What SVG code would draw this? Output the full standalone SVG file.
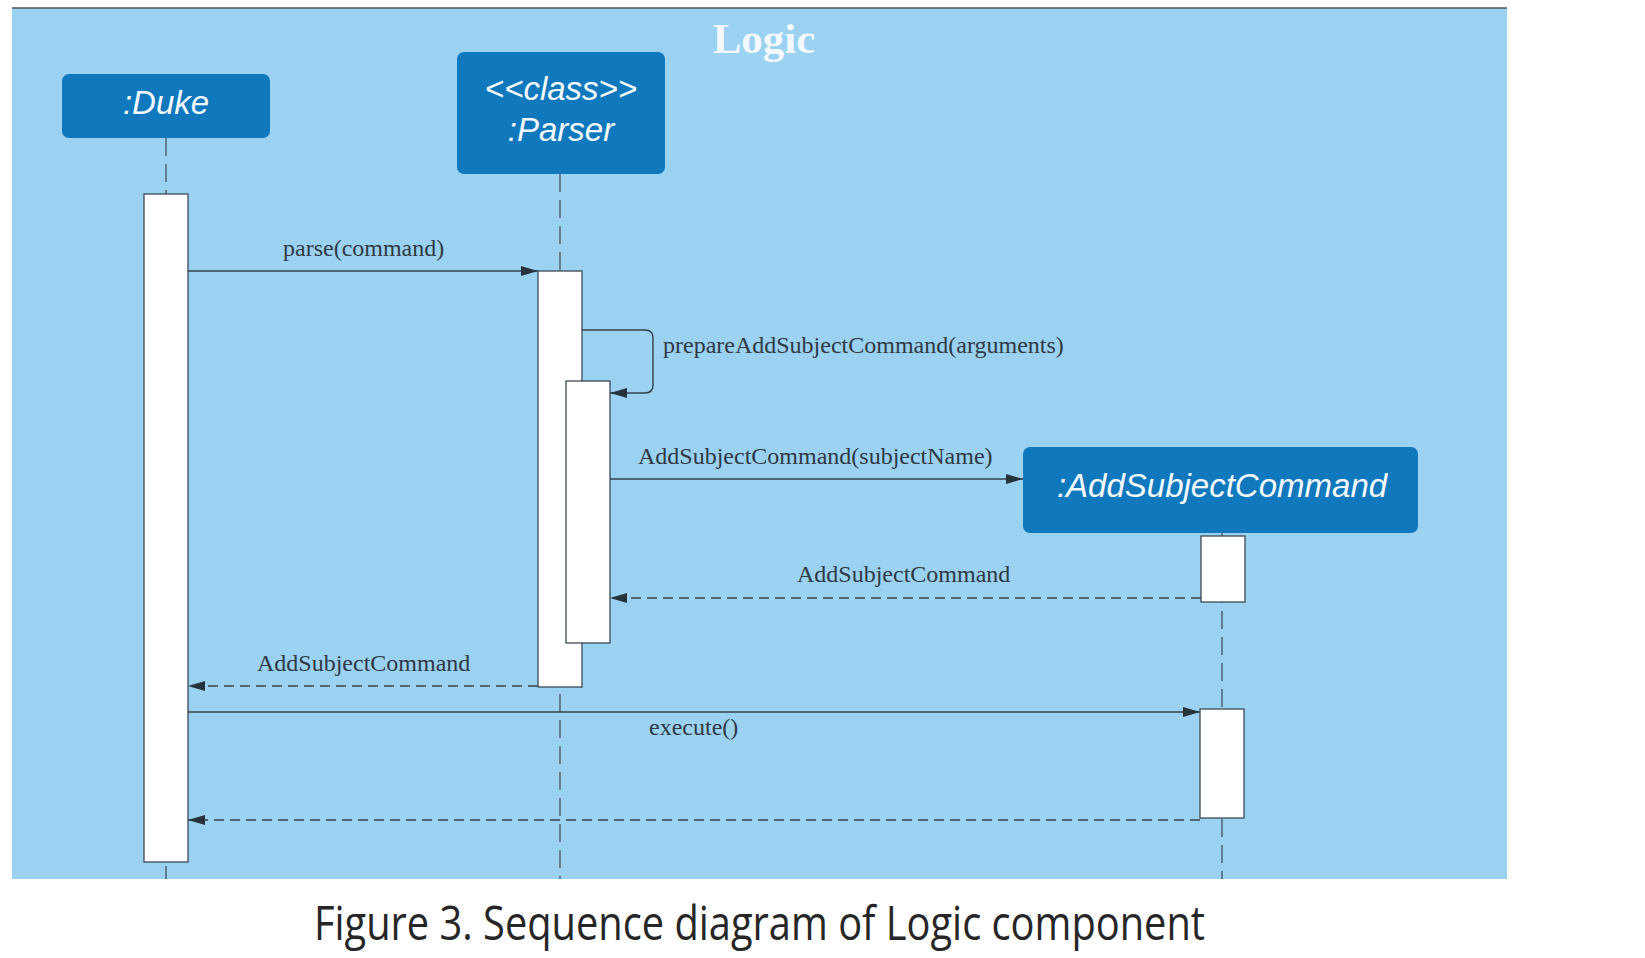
<svg xmlns="http://www.w3.org/2000/svg" width="1645" height="958" viewBox="0 0 1645 958">
<style>
.node{fill:#1079bd}
.ntext{font-family:"Liberation Sans",Arial,sans-serif;font-style:italic;font-size:33px;fill:#f4f9fd;text-anchor:middle}
.life{stroke:#3a4855;stroke-width:1.2;stroke-dasharray:18 8;fill:none}
.act{fill:#ffffff;stroke:#3d4a56;stroke-width:1.3}
.msg{stroke:#34424e;stroke-width:1.4;fill:none}
.ret{stroke:#34424e;stroke-width:1.4;fill:none;stroke-dasharray:10 6}
.lbl{font-family:"Liberation Serif","Times New Roman",serif;font-size:24px;fill:#2f3a44}
</style>
<defs>
<marker id="arr" markerUnits="userSpaceOnUse" markerWidth="18" markerHeight="12" refX="17" refY="6" orient="auto">
<path d="M0,1 L17,6 L0,11 z" fill="#26323c" stroke="none"/>
</marker>
</defs>
<rect width="1645" height="958" fill="#ffffff"/>
<rect x="12" y="8" width="1495" height="871" fill="#9bd1f1"/>
<line x1="12" y1="8" x2="1507" y2="8" stroke="#4a5763" stroke-width="1.6"/>
<text x="764" y="53" font-family="'Liberation Serif','Times New Roman',serif" font-weight="bold" font-size="43" fill="#f3f9fd" text-anchor="middle">Logic</text>

<g id="lifelines">
<line class="life" x1="166" y1="138" x2="166" y2="879"/>
<line class="life" x1="560" y1="174" x2="560" y2="879"/>
<line class="life" x1="1222" y1="533" x2="1222" y2="879"/>
</g>

<g id="duke">
<rect class="node" x="62" y="74" width="208" height="64" rx="7"/>
<text class="ntext" x="166" y="114">:Duke</text>
<rect class="act" x="144" y="194" width="44" height="668"/>
</g>

<g id="parser">
<rect class="node" x="457" y="52" width="208" height="122" rx="7"/>
<text class="ntext" x="561" y="100">&lt;&lt;class&gt;&gt;</text>
<text class="ntext" x="561" y="141">:Parser</text>
<rect class="act" x="538" y="271" width="44" height="416"/>
<rect class="act" x="566" y="381" width="44" height="262"/>
</g>

<g id="addSubjectCommand">
<rect class="node" x="1023" y="447" width="395" height="86" rx="7"/>
<text class="ntext" x="1222" y="497">:AddSubjectCommand</text>
<rect class="act" x="1201" y="536" width="44" height="66"/>
<rect class="act" x="1200" y="709" width="44" height="109"/>
</g>

<g id="connectors">
<line class="msg" x1="188" y1="271" x2="538" y2="271" marker-end="url(#arr)"/>
<text class="lbl" x="283" y="256">parse(command)</text>
<path class="msg" d="M582,330 H645 Q653,330 653,338 V385 Q653,393 645,393 H610" marker-end="url(#arr)"/>
<text class="lbl" x="663" y="353" font-size="24.2">prepareAddSubjectCommand(arguments)</text>
<line class="msg" x1="610" y1="479" x2="1023" y2="479" marker-end="url(#arr)"/>
<text class="lbl" x="638" y="464">AddSubjectCommand(subjectName)</text>
<line class="ret" x1="1201" y1="598" x2="610" y2="598" marker-end="url(#arr)"/>
<text class="lbl" x="797" y="582">AddSubjectCommand</text>
<line class="ret" x1="538" y1="686" x2="188" y2="686" marker-end="url(#arr)"/>
<text class="lbl" x="257" y="671">AddSubjectCommand</text>
<line class="msg" x1="188" y1="712" x2="1200" y2="712" marker-end="url(#arr)"/>
<text class="lbl" x="649" y="735">execute()</text>
<line class="ret" x1="1200" y1="820" x2="188" y2="820" marker-end="url(#arr)"/>
</g>

<text x="314" y="940" font-family="'Open Sans','Noto Sans',sans-serif" font-size="47" fill="#262626" textLength="891" lengthAdjust="spacingAndGlyphs">Figure 3. Sequence diagram of Logic component</text>
</svg>
